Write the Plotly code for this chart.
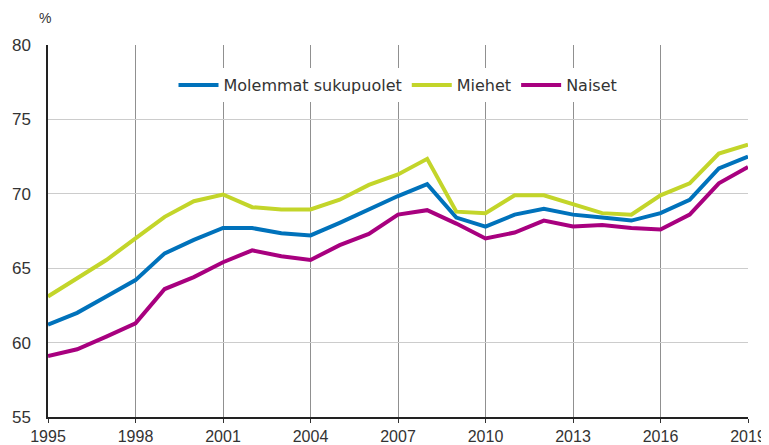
import plotly.graph_objects as go

years = list(range(1995, 2020))
molemmat = [61.2, 62.0, 63.1, 64.2, 66.0, 66.9, 67.7, 67.7, 67.35, 67.2, 68.05, 68.95, 69.85, 70.65, 68.4, 67.8, 68.6, 69.0, 68.6, 68.4, 68.2, 68.7, 69.6, 71.7, 72.5]
miehet = [63.1, 64.3, 65.55, 67.0, 68.45, 69.5, 69.95, 69.1, 68.95, 68.95, 69.6, 70.6, 71.3, 72.35, 68.8, 68.7, 69.9, 69.9, 69.3, 68.7, 68.6, 69.9, 70.7, 72.7, 73.3]
naiset = [59.1, 59.55, 60.4, 61.3, 63.6, 64.4, 65.4, 66.2, 65.8, 65.55, 66.55, 67.3, 68.6, 68.9, 68.0, 67.0, 67.4, 68.2, 67.8, 67.9, 67.7, 67.6, 68.6, 70.7, 71.8]

series_names = ["Molemmat sukupuolet", "Miehet", "Naiset"]
series_vals = [molemmat, miehet, naiset]
colors = ["#0072bb", "#c3d52a", "#a8007f"]

x_ticks = list(range(1995, 2020, 3))
y_ticks = [55, 60, 65, 70, 75, 80]

fig = go.Figure()
for name, vals, c in zip(series_names, series_vals, colors):
    fig.add_trace(go.Scatter(x=years, y=vals, mode="lines", name=name,
                             line=dict(color=c, width=4)))

font = dict(family="Liberation Sans, Arial, sans-serif", size=17, color="#333333")
xfont = dict(family="Liberation Sans, Arial, sans-serif", size=16, color="#333333")

# page body has an 8px default margin, so the figure is sized/offset to compensate
fig.update_layout(
    width=761, height=437,
    margin=dict(l=40, r=21, t=37, b=28, autoexpand=False),
    paper_bgcolor="white", plot_bgcolor="white",
    font=font,
    showlegend=True,
    legend=dict(orientation="h", x=0.5, xanchor="center", y=0.8925, yanchor="middle",
                bgcolor="white", font=dict(family="DejaVu Sans, sans-serif", size=16, color="#333333"),
                itemwidth=40, tracegroupgap=0),
    xaxis=dict(range=[1995, 2019], tickvals=x_ticks, ticks="outside", ticklen=4,
               tickcolor="#333333", showgrid=True, gridcolor="#909090", gridwidth=1,
               showline=True, linecolor="#222222", linewidth=1.5, zeroline=False,
               tickfont=xfont, automargin=False),
    yaxis=dict(range=[55, 80], tickvals=y_ticks, ticks="", showgrid=True,
               gridcolor="#cccccc", gridwidth=1, showline=True, linecolor="#222222",
               linewidth=1.5, zeroline=False, ticklabelstandoff=12, tickfont=font,
               automargin=False),
    annotations=[dict(text="%", xref="paper", yref="paper", x=-0.005, y=1.073,
                      xanchor="center", yanchor="middle", showarrow=False,
                      font=dict(family="Liberation Sans, Arial, sans-serif", size=14, color="#333333"))],
)

fig.write_html("out.html")
